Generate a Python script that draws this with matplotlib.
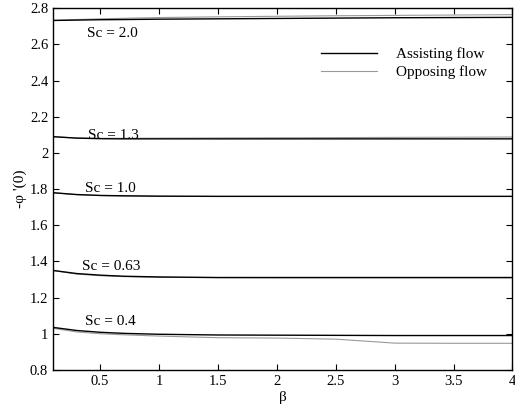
import matplotlib
matplotlib.use("Agg")
import matplotlib.pyplot as plt

plt.rcParams['font.family'] = ['Liberation Serif', 'DejaVu Serif']
plt.rcParams['mathtext.fontset'] = 'stix'

# beta values
beta = [0.1, 0.3, 0.5, 0.7, 1.0, 1.5, 2.0, 2.5, 3.0, 3.5, 4.0]

# -phi'(0), assisting flow
assist = {
    "2.0": [2.733, 2.735, 2.737, 2.738, 2.740, 2.742, 2.744, 2.746, 2.748, 2.749, 2.750],
    "1.3": [2.090, 2.082, 2.079, 2.078, 2.078, 2.078, 2.078, 2.078, 2.078, 2.078, 2.078],
    "1.0": [1.780, 1.770, 1.765, 1.763, 1.761, 1.760, 1.760, 1.760, 1.760, 1.760, 1.760],
    "0.63": [1.350, 1.333, 1.324, 1.318, 1.314, 1.311, 1.311, 1.311, 1.311, 1.311, 1.311],
    "0.4": [1.035, 1.018, 1.008, 1.002, 0.997, 0.993, 0.992, 0.991, 0.990, 0.990, 0.990],
}
# -phi'(0), opposing flow
oppose = {
    "2.0": [2.733, 2.738, 2.742, 2.745, 2.749, 2.753, 2.756, 2.759, 2.761, 2.763, 2.765],
    "1.3": [2.090, 2.083, 2.081, 2.081, 2.082, 2.083, 2.084, 2.085, 2.086, 2.087, 2.088],
    "1.0": [1.780, 1.769, 1.764, 1.762, 1.760, 1.759, 1.759, 1.759, 1.759, 1.759, 1.759],
    "0.63": [1.350, 1.330, 1.321, 1.316, 1.312, 1.310, 1.309, 1.309, 1.309, 1.309, 1.309],
    "0.4": [1.030, 1.010, 1.000, 0.994, 0.987, 0.978, 0.976, 0.970, 0.948, 0.947, 0.947],
}

sc_labels = ["2.0", "1.3", "1.0", "0.63", "0.4"]
label_x = [0.39, 0.40, 0.37, 0.35, 0.37]
label_y = [2.64, 2.075, 1.785, 1.355, 1.05]

fig = plt.figure(figsize=(5.15, 4.17), dpi=100)
ax = fig.add_axes([0.103, 0.113, 0.892, 0.867])

for i, sc in enumerate(sc_labels):
    ax.plot(beta, oppose[sc], color="#999999", lw=0.8,
            label="Opposing flow" if i == 0 else None)
    ax.plot(beta, assist[sc], color="black", lw=1.0,
            label="Assisting flow" if i == 0 else None)
    ax.text(label_x[i], label_y[i], "Sc = " + sc, fontsize=11)

ax.set_xlim(0.1, 4)
ax.set_ylim(0.8, 2.8)
ax.set_xticks([0.5, 1, 1.5, 2, 2.5, 3, 3.5, 4])
ax.set_xticklabels(["0.5", "1", "1.5", "2", "2.5", "3", "3.5", "4"])
ax.set_yticks([0.8, 1, 1.2, 1.4, 1.6, 1.8, 2, 2.2, 2.4, 2.6, 2.8])
ax.set_yticklabels(["0.8", "1", "1.2", "1.4", "1.6", "1.8", "2", "2.2", "2.4", "2.6", "2.8"])
ax.tick_params(direction="in", top=True, right=True, labelsize=10.5, length=4, width=0.8)
for s in ax.spines.values():
    s.set_linewidth(1.0)

ax.set_xlabel("β", fontsize=11, labelpad=2)
ax.set_ylabel("-φ '(0)", fontsize=11, labelpad=2)

h, l = ax.get_legend_handles_labels()
ax.legend([h[1], h[0]], [l[1], l[0]], loc="upper right", bbox_to_anchor=(0.975, 0.93),
          frameon=False, fontsize=11, handlelength=3.7, handletextpad=1.25,
          labelspacing=0.28)

fig.savefig("out.png", dpi=100)
